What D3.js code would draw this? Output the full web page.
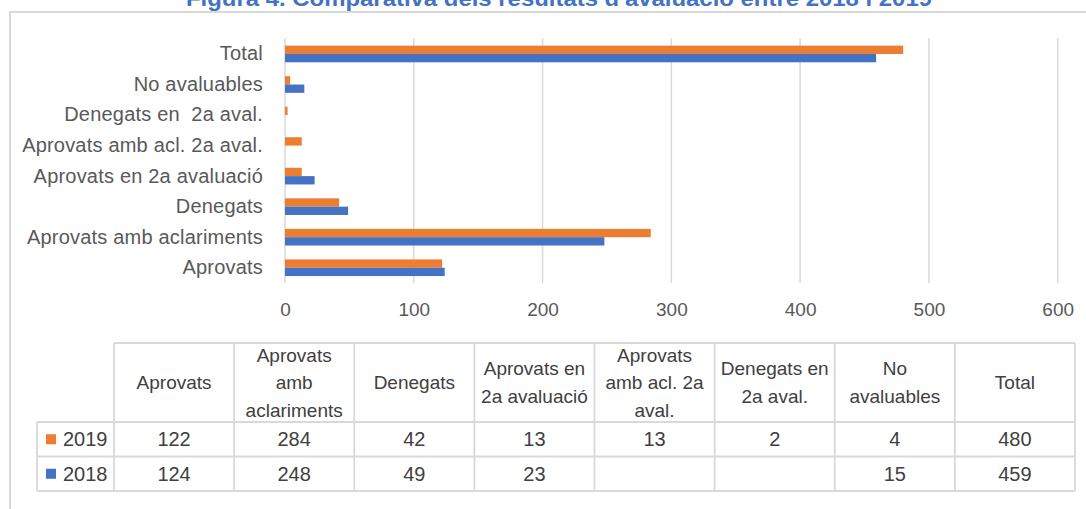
<!DOCTYPE html>
<html>
<head>
<meta charset="utf-8">
<script src="https://cdn.jsdelivr.net/npm/d3@7"></script>
<style>
	html, body { margin: 0; padding: 0; background: #fff; }
	svg { display: block; font-family: "Liberation Sans", Arial, sans-serif; }
</style>
</head>
<body>
<svg id="chart" width="1086" height="509"></svg>
<script>
////////////////////////////////////////
// Comparativa dels resultats d'avaluacio 2018 / 2019
////////////////////////////////////////

var categories = ["Aprovats", "Aprovats amb aclariments", "Denegats", "Aprovats en 2a avaluació",
	"Aprovats amb acl. 2a aval.", "Denegats en  2a aval.", "No avaluables", "Total"];

// header text of the table, one entry per line
var tableHeaders = [["Aprovats"], ["Aprovats", "amb", "aclariments"], ["Denegats"],
	["Aprovats en", "2a avaluació"], ["Aprovats", "amb acl. 2a", "aval."],
	["Denegats en", "2a aval."], ["No", "avaluables"], ["Total"]];

var seriesNames = ["2019", "2018"];
var values2019 = [122, 284, 42, 13, 13, 2, 4, 480];
var values2018 = [124, 248, 49, 23, null, null, 15, 459];
var xTicks = [0, 100, 200, 300, 400, 500, 600];

var colors = {"2019": "#ED7D31", "2018": "#4472C4"};
var seriesValues = {"2019": values2019, "2018": values2018};

var svg = d3.select("#chart");
var gridColor = "#d9d9d9";

// title, cut off at the top of the page (as in the source)
svg.append("text")
	.attr("x", 186)
	.attr("y", 5.5)
	.attr("textLength", 746)
	.attr("lengthAdjust", "spacingAndGlyphs")
	.style("font-weight", "bold")
	.style("font-size", "22px")
	.style("fill", "#4472C4")
	.text("Figura 4. Comparativa dels resultats d'avaluació entre 2018 i 2019");

// outer frame of the chart area
svg.append("path")
	.attr("d", "M10,520 V12 H1100")
	.style("fill", "none")
	.style("stroke", gridColor)
	.style("stroke-width", 2);

////////////////////////////////////////
// bar chart

var x = d3.scaleLinear().domain([0, 600]).range([285, 1057.7]);

var y = d3.scaleBand()
	.domain(categories.slice().reverse())
	.range([38.7, 283])
	.padding(0);

var ySeries = d3.scaleBand()
	.domain(seriesNames)
	.range([y.bandwidth() * 0.2275, y.bandwidth() * 0.7725]);

var grid = svg.append("g");
grid.selectAll("line")
	.data(xTicks)
	.enter().append("line")
	.attr("x1", function(d) { return x(d); })
	.attr("x2", function(d) { return x(d); })
	.attr("y1", 38.3)
	.attr("y2", 283)
	.style("stroke", gridColor)
	.style("stroke-width", 1.5);

var xAxis = svg.append("g")
	.attr("transform", "translate(0,283)")
	.call(d3.axisBottom(x).tickValues(xTicks).tickSize(0).tickPadding(20));
xAxis.select(".domain").remove();
xAxis.selectAll("text")
	.style("font-family", "'Liberation Sans', Arial, sans-serif")
	.style("font-size", "19px")
	.style("fill", "#595959");

var yAxis = svg.append("g")
	.attr("transform", "translate(263,0)")
	.call(d3.axisLeft(y).tickSize(0).tickPadding(0));
yAxis.select(".domain").remove();
yAxis.selectAll("text")
	.attr("xml:space", "preserve")
	.style("white-space", "pre")
	.style("font-family", "'Liberation Sans', Arial, sans-serif")
	.style("font-size", "20px")
	.style("letter-spacing", "0.2px")
	.style("fill", "#595959");

var groups = svg.append("g").selectAll("g")
	.data(categories)
	.enter().append("g")
	.attr("transform", function(d) { return "translate(0," + y(d) + ")"; });

groups.selectAll("rect")
	.data(function(d, i) {
		return seriesNames.map(function(s) { return {series: s, value: seriesValues[s][i]}; })
			.filter(function(e) { return e.value !== null; });
	})
	.enter().append("rect")
	.attr("x", x(0))
	.attr("y", function(d) { return ySeries(d.series); })
	.attr("width", function(d) { return x(d.value) - x(0); })
	.attr("height", ySeries.bandwidth())
	.style("fill", function(d) { return colors[d.series]; });

////////////////////////////////////////
// data table below the chart

var col = d3.scaleBand().domain(categories).range([114, 1075]);
var legendLeft = 37;
var headTop = 343, rowTop = 422, rowH = 34.5;
var tableBottom = rowTop + rowH * 2;

var table = svg.append("g");
var lineStyle = function(sel) {
	sel.style("stroke", gridColor).style("stroke-width", 1.8).style("fill", "none");
};

// horizontal lines
table.append("line").attr("x1", col.range()[0]).attr("x2", col.range()[1])
	.attr("y1", headTop).attr("y2", headTop).call(lineStyle);
[rowTop, rowTop + rowH, tableBottom].forEach(function(yy) {
	table.append("line").attr("x1", legendLeft).attr("x2", col.range()[1])
		.attr("y1", yy).attr("y2", yy).call(lineStyle);
});
// vertical lines
table.append("line").attr("x1", legendLeft).attr("x2", legendLeft)
	.attr("y1", rowTop).attr("y2", tableBottom).call(lineStyle);
categories.forEach(function(c) {
	table.append("line").attr("x1", col(c)).attr("x2", col(c))
		.attr("y1", headTop).attr("y2", tableBottom).call(lineStyle);
});
table.append("line").attr("x1", col.range()[1]).attr("x2", col.range()[1])
	.attr("y1", headTop).attr("y2", tableBottom).call(lineStyle);

var textColor = "#404040";
var headMid = (headTop + rowTop) / 2;
var lineH = 27.5;

categories.forEach(function(c, i) {
	var lines = tableHeaders[i];
	var cx = col(c) + col.bandwidth() / 2;
	lines.forEach(function(t, j) {
		table.append("text")
			.attr("x", cx)
			.attr("y", headMid + (j - (lines.length - 1) / 2) * lineH)
			.attr("dy", "0.35em")
			.attr("text-anchor", "middle")
			.style("font-size", "19px")
			.style("fill", textColor)
			.text(t);
	});
});

seriesNames.forEach(function(s, r) {
	var cy = rowTop + rowH * r + rowH / 2;
	table.append("rect")
		.attr("x", 46).attr("y", cy - 5)
		.attr("width", 10).attr("height", 10)
		.style("fill", colors[s]);
	table.append("text")
		.attr("x", 63).attr("y", cy)
		.attr("dy", "0.35em")
		.style("font-size", "20px")
		.style("fill", textColor)
		.text(s);
	seriesValues[s].forEach(function(v, i) {
		if (v === null) return;
		table.append("text")
			.attr("x", col(categories[i]) + col.bandwidth() / 2)
			.attr("y", cy)
			.attr("dy", "0.35em")
			.attr("text-anchor", "middle")
			.style("font-size", "20px")
			.style("fill", textColor)
			.text(v);
	});
});
</script>
</body>
</html>
